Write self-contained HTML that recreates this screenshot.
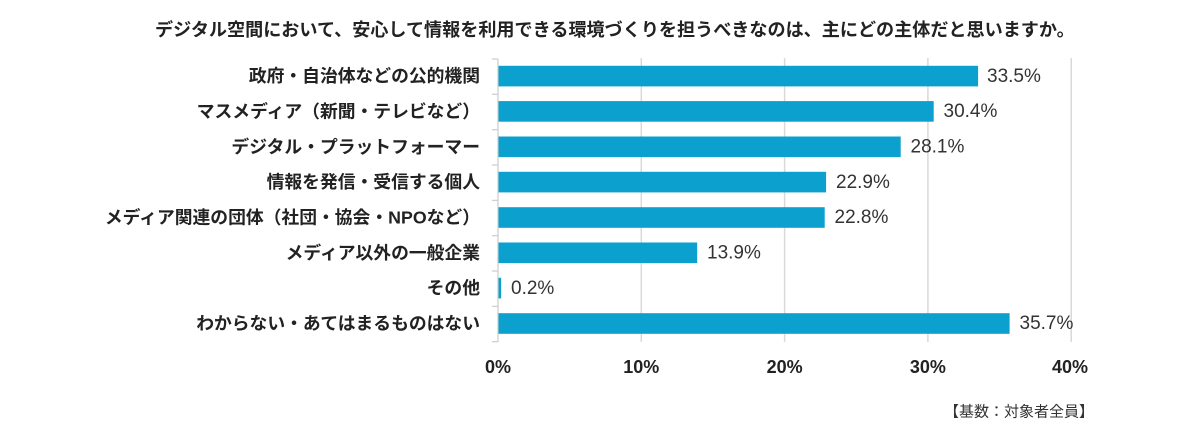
<!DOCTYPE html>
<html>
<head>
<meta charset="utf-8">
<style>
  html, body { margin:0; padding:0; background:#fff; }
  body { width:1200px; height:431px; overflow:hidden; }
  svg { display:block; }
  .jp { font-family: "Liberation Sans", "Noto Sans CJK JP", sans-serif; }
</style>
</head>
<body>
<svg width="1200" height="431" viewBox="0 0 1200 431" xmlns="http://www.w3.org/2000/svg">
  <rect width="1200" height="431" fill="#fff"/>
  <!-- title -->
  <text class="jp" x="155" y="30" dominant-baseline="central" font-size="18.1" font-weight="bold" fill="#222">デジタル空間において、安心して情報を利用できる環境づくりを担うべきなのは、主にどの主体だと思いますか。</text>

  <!-- gridlines -->
  <g stroke="#d9d9d9" stroke-width="1.5">
    <line x1="641.3" y1="58" x2="641.3" y2="342"/>
    <line x1="784.6" y1="58" x2="784.6" y2="342"/>
    <line x1="927.9" y1="58" x2="927.9" y2="342"/>
    <line x1="1071.2" y1="58" x2="1071.2" y2="342"/>
  </g>
  <!-- axis + ticks -->
  <g stroke="#d0d0d0" stroke-width="1.3">
    <line x1="498" y1="59" x2="498" y2="342"/>
    <line x1="492" y1="59" x2="498" y2="59"/>
    <line x1="492" y1="94.3" x2="498" y2="94.3"/>
    <line x1="492" y1="129.7" x2="498" y2="129.7"/>
    <line x1="492" y1="165" x2="498" y2="165"/>
    <line x1="492" y1="200.4" x2="498" y2="200.4"/>
    <line x1="492" y1="235.7" x2="498" y2="235.7"/>
    <line x1="492" y1="271" x2="498" y2="271"/>
    <line x1="492" y1="306.4" x2="498" y2="306.4"/>
    <line x1="492" y1="341.7" x2="498" y2="341.7"/>
  </g>

  <!-- bars -->
  <g fill="#0ba0cd">
    <rect x="498.5" y="65.8" width="479.6" height="20.6"/>
    <rect x="498.5" y="101.1" width="435.2" height="20.6"/>
    <rect x="498.5" y="136.5" width="402.2" height="20.6"/>
    <rect x="498.5" y="171.8" width="327.6" height="20.6"/>
    <rect x="498.5" y="207.2" width="326.2" height="20.6"/>
    <rect x="498.5" y="242.5" width="198.7" height="20.6"/>
    <rect x="498.5" y="277.8" width="2.6" height="20.6"/>
    <rect x="498.5" y="313.2" width="511.1" height="20.6"/>
  </g>

  <!-- value labels -->
  <g font-family="Liberation Sans, sans-serif" font-size="19" fill="#333" dominant-baseline="central">
    <text x="987" y="76.3">33.5%</text>
    <text x="943.5" y="111.6">30.4%</text>
    <text x="910.5" y="147">28.1%</text>
    <text x="836" y="182.3">22.9%</text>
    <text x="834.5" y="217.7">22.8%</text>
    <text x="707" y="253">13.9%</text>
    <text x="511" y="288.3">0.2%</text>
    <text x="1019.5" y="323.7">35.7%</text>
  </g>

  <!-- category labels -->
  <g class="jp" font-size="17.8" font-weight="bold" fill="#222" text-anchor="end" dominant-baseline="central">
    <text x="480" y="76">政府・自治体などの公的機関</text>
    <text x="480" y="111.4">マスメディア（新聞・テレビなど）</text>
    <text x="480" y="146.8">デジタル・プラットフォーマー</text>
    <text x="480" y="182.1">情報を発信・受信する個人</text>
    <text x="480" y="217.5">メディア関連の団体（社団・協会・NPOなど）</text>
    <text x="480" y="252.8">メディア以外の一般企業</text>
    <text x="480" y="288.1">その他</text>
    <text x="480" y="323.5">わからない・あてはまるものはない</text>
  </g>

  <!-- x axis labels -->
  <g font-family="Liberation Sans, sans-serif" font-size="18" font-weight="bold" fill="#222" text-anchor="middle" dominant-baseline="central">
    <text x="498" y="367">0%</text>
    <text x="641.3" y="367">10%</text>
    <text x="784.6" y="367">20%</text>
    <text x="927.9" y="367">30%</text>
    <text x="1070" y="367">40%</text>
  </g>

  <!-- footnote -->
  <text class="jp" x="1094" y="412" font-size="15" fill="#333" text-anchor="end" dominant-baseline="central">【基数：対象者全員】</text>
</svg>
</body>
</html>
